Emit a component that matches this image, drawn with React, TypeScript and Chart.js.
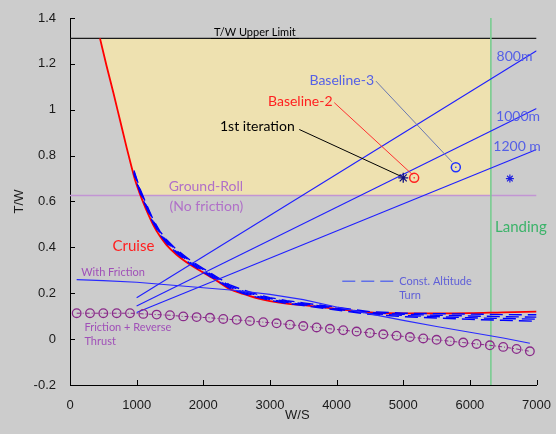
import React, { useEffect, useRef } from 'react';
import { Chart, registerables } from 'chart.js';

Chart.register(...registerables);

// ---- data ----
const cruiseWS = [450, 550, 650, 750, 850, 920, 980, 1040, 1100, 1150, 1250, 1350, 1450, 1600, 1800, 2000, 2200, 2400, 2600, 2800, 3000, 3250, 3500, 4000, 4500, 5000, 5500, 6000, 6500, 7000];
const cruiseTW = [1.311, 1.19, 1.075, 0.955, 0.835, 0.755, 0.69, 0.64, 0.595, 0.56, 0.497, 0.448, 0.41, 0.368, 0.325, 0.29, 0.255, 0.218, 0.197, 0.179, 0.166, 0.155, 0.148, 0.132, 0.116, 0.112, 0.112, 0.113, 0.117, 0.12];

const turnWS = [960, 1050, 1150, 1250, 1350, 1450, 1600, 1800, 2000, 2200, 2400, 2600, 2800, 3000, 3250, 3500, 4000, 4500, 5000, 5500, 6000, 6500, 7000];
const turn1TW = [0.735, 0.655, 0.585, 0.52, 0.47, 0.433, 0.39, 0.345, 0.308, 0.272, 0.236, 0.214, 0.196, 0.181, 0.168, 0.158, 0.139, 0.12, 0.113, 0.111, 0.109, 0.107, 0.106];
const turn2TW = [0.73, 0.65, 0.58, 0.515, 0.465, 0.428, 0.385, 0.34, 0.303, 0.267, 0.231, 0.209, 0.191, 0.177, 0.164, 0.154, 0.135, 0.116, 0.108, 0.104, 0.101, 0.098, 0.096];
const turn3TW = [0.725, 0.645, 0.575, 0.51, 0.46, 0.423, 0.38, 0.335, 0.298, 0.262, 0.226, 0.204, 0.187, 0.173, 0.16, 0.15, 0.131, 0.112, 0.103, 0.098, 0.093, 0.09, 0.087];
const turn4TW = [0.72, 0.64, 0.57, 0.505, 0.455, 0.418, 0.375, 0.33, 0.293, 0.257, 0.221, 0.199, 0.183, 0.169, 0.156, 0.146, 0.127, 0.108, 0.098, 0.092, 0.086, 0.082, 0.078];

const frictionWS = [100, 500, 1000, 1500, 2000, 2500, 3000, 3500, 4000, 4500, 5000, 5500, 6000, 6500, 6900];
const frictionTW = [0.259, 0.255, 0.248, 0.236, 0.224, 0.212, 0.195, 0.172, 0.14, 0.11, 0.082, 0.055, 0.03, 0.005, -0.018];

const reverseWS = [100, 300, 500, 700, 900, 1100, 1300, 1500, 1700, 1900, 2100, 2300, 2500, 2700, 2900, 3100, 3300, 3500, 3700, 3900, 4100, 4300, 4500, 4700, 4900, 5100, 5300, 5500, 5700, 5900, 6100, 6300, 6500, 6700, 6900];
const reverseTW = [0.113, 0.113, 0.113, 0.113, 0.113, 0.11, 0.107, 0.104, 0.099, 0.096, 0.093, 0.088, 0.084, 0.079, 0.074, 0.069, 0.063, 0.057, 0.051, 0.045, 0.039, 0.033, 0.027, 0.021, 0.015, 0.009, 0.003, -0.003, -0.009, -0.015, -0.021, -0.027, -0.034, -0.043, -0.053];

const altWS = [1000, 7000];
const alt800TW = [0.18, 1.257];
const alt1000TW = [0.144, 1.005];
const alt1200TW = [0.116, 0.827];

const fillWS = [450, 550, 650, 750, 850, 920, 980, 1040, 1044, 6315, 6315];
const fillTW = [1.311, 1.19, 1.075, 0.955, 0.835, 0.755, 0.69, 0.64, 0.626, 0.626, 1.311];

const upperLimitTW = 1.311;
const groundRollTW = 0.626;
const landingWS = 6315;

const iterWS = [5000, 6600];
const iterTW = [0.703, 0.70];
const baseline2WS = [5164];
const baseline2TW = [0.703];
const baseline3WS = [5789];
const baseline3TW = [0.749];

const leaderIterWS = [3440, 4965];
const leaderIterTW = [0.914, 0.71];
const leaderB2WS = [3965, 5139];
const leaderB2TW = [1.031, 0.717];
const leaderB3WS = [4590, 5734];
const leaderB3TW = [1.125, 0.772];

const legendDashWS = [4085, 4880];
const legendDashTW = [0.252, 0.252];

const xTicks = [0, 1000, 2000, 3000, 4000, 5000, 6000, 7000];
const yTicks = [-0.2, 0, 0.2, 0.4, 0.6, 0.8, 1, 1.2, 1.4];

const pts = (xs: number[], ys: number[]) => xs.map((x, i) => ({ x, y: ys[i] }));

const ANN = 'Lato, "Open Sans", sans-serif';
const AX = '"Liberation Sans", Arial, sans-serif';

type Lbl = { t: string; ws: number; tw: number; c: string; s: number; a: CanvasTextAlign; u?: boolean };
const labels: Lbl[] = [
  { t: 'T/W Upper Limit', ws: 2773, tw: 1.338, c: '#000000', s: 11, a: 'center', u: true },
  { t: 'Baseline-3', ws: 4077, tw: 1.128, c: '#5560e6', s: 14, a: 'center' },
  { t: 'Baseline-2', ws: 3455, tw: 1.034, c: '#ff2020', s: 14, a: 'center' },
  { t: '1st iteration', ws: 2811, tw: 0.925, c: '#000000', s: 14, a: 'center' },
  { t: '800m', ws: 6670, tw: 1.233, c: '#5560e6', s: 14, a: 'center' },
  { t: '1000m', ws: 6723, tw: 0.972, c: '#5560e6', s: 14, a: 'center' },
  { t: '1200 m', ws: 6708, tw: 0.841, c: '#5560e6', s: 14, a: 'center' },
  { t: 'Ground-Roll', ws: 2039, tw: 0.665, c: '#b070c8', s: 14, a: 'center' },
  { t: '(No friction)', ws: 2046, tw: 0.579, c: '#b070c8', s: 14, a: 'center' },
  { t: 'Cruise', ws: 952, tw: 0.404, c: '#ff2020', s: 15, a: 'center' },
  { t: 'With Friction', ws: 168, tw: 0.29, c: '#a050b8', s: 11, a: 'left' },
  { t: 'Friction + Reverse', ws: 217, tw: 0.051, c: '#a050b8', s: 11, a: 'left' },
  { t: 'Thrust', ws: 217, tw: -0.012, c: '#a050b8', s: 11, a: 'left' },
  { t: 'Const. Altitude', ws: 4939, tw: 0.252, c: '#6060d8', s: 11, a: 'left' },
  { t: 'Turn', ws: 4939, tw: 0.189, c: '#6060d8', s: 11, a: 'left' },
  { t: 'Landing', ws: 6378, tw: 0.487, c: '#3cb36a', s: 15, a: 'left' },
];

const annotPlugin = {
  id: 'annot',
  afterDraw(chart: any) {
    const { ctx, chartArea: ca } = chart;
    const x = chart.scales.x;
    const y = chart.scales.y;
    ctx.save();
    ctx.strokeStyle = '#000';
    ctx.lineWidth = 1;
    ctx.beginPath();
    for (const v of xTicks) {
      const px = Math.round(x.getPixelForValue(v)) + 0.5;
      ctx.moveTo(px, ca.bottom);
      ctx.lineTo(px, ca.bottom - 5);
    }
    for (const v of yTicks) {
      const py = Math.round(y.getPixelForValue(v)) + 0.5;
      ctx.moveTo(ca.left, py);
      ctx.lineTo(ca.left + 5, py);
    }
    ctx.stroke();

    ctx.textBaseline = 'middle';
    for (const l of labels) {
      ctx.font = `${l.s}px ${ANN}`;
      ctx.fillStyle = l.c;
      ctx.textAlign = l.a;
      const px = x.getPixelForValue(l.ws);
      const py = y.getPixelForValue(l.tw);
      ctx.fillText(l.t, px, py);
      if (l.u) {
        const w = ctx.measureText(l.t).width;
        ctx.strokeStyle = l.c;
        ctx.beginPath();
        const uy = Math.round(py + l.s * 0.5) + 0.5;
        ctx.moveTo(px - w / 2 - 3, uy);
        ctx.lineTo(px + w / 2 + 3, uy);
        ctx.stroke();
      }
    }

    ctx.fillStyle = '#1a1a1a';
    ctx.font = `13px ${AX}`;
    ctx.textAlign = 'center';
    ctx.fillText('W/S', (ca.left + ca.right) / 2 - 6, 415);
    ctx.save();
    ctx.translate(19, (ca.top + ca.bottom) / 2);
    ctx.rotate(-Math.PI / 2);
    ctx.fillText('T/W', 0, 0);
    ctx.restore();
    ctx.restore();
  },
};

export default function App() {
  const ref = useRef<HTMLCanvasElement | null>(null);
  useEffect(() => {
    document.body.style.margin = '0';
    document.body.style.background = '#cccccc';
    const canvas = ref.current!;
    const line = (data: any[], color: string, width: number, extra: any = {}) => ({
      data,
      showLine: true,
      borderColor: color,
      backgroundColor: color,
      borderWidth: width,
      pointRadius: 0,
      fill: false,
      tension: 0,
      ...extra,
    });
    const dash = [13, 6];
    const chart = new Chart(canvas, {
      type: 'scatter',
      data: {
        datasets: [
          // markers (top)
          { data: pts(iterWS.slice(0, 1), iterTW.slice(0, 1)), pointStyle: 'star', pointRadius: 5, borderColor: '#101080', borderWidth: 1.3, backgroundColor: '#101080', showLine: false },
          { data: pts(iterWS.slice(1), iterTW.slice(1)), pointStyle: 'star', pointRadius: 4, borderColor: '#2020e0', borderWidth: 1.2, backgroundColor: '#2020e0', showLine: false },
          { data: pts(baseline2WS, baseline2TW), pointStyle: 'circle', pointRadius: 4.5, borderColor: '#ff2020', borderWidth: 1.5, backgroundColor: 'rgba(0,0,0,0)', showLine: false },
          { data: pts(baseline2WS, baseline2TW), pointStyle: 'circle', pointRadius: 0.8, borderColor: '#ff2020', borderWidth: 0, backgroundColor: '#ff2020', showLine: false },
          { data: pts(baseline3WS, baseline3TW), pointStyle: 'circle', pointRadius: 4.5, borderColor: '#2030ff', borderWidth: 1.5, backgroundColor: 'rgba(0,0,0,0)', showLine: false },
          { data: pts(baseline3WS, baseline3TW), pointStyle: 'circle', pointRadius: 0.8, borderColor: '#2030ff', borderWidth: 0, backgroundColor: '#2030ff', showLine: false },
          // leaders
          line(pts(leaderIterWS, leaderIterTW), '#000000', 1),
          line(pts(leaderB2WS, leaderB2TW), '#ff3030', 1),
          line(pts(leaderB3WS, leaderB3TW), '#6a78b0', 1),
          // legend dash
          line(pts(legendDashWS, legendDashTW), '#6070e8', 1.5, { borderDash: dash }),
          // reverse thrust
          line(pts(reverseWS, reverseTW), '#8a2a8a', 1, {
            borderDash: [4, 2, 1, 2],
            pointRadius: 4.3,
            pointStyle: 'circle',
            pointBorderColor: '#8a2a8a',
            pointBackgroundColor: 'rgba(0,0,0,0)',
            pointBorderWidth: 1.3,
          }),
          // friction
          line(pts(frictionWS, frictionTW), '#2a2aff', 1.2),
          // altitude lines
          line(pts(altWS, alt800TW), '#1f1fff', 1.1),
          line(pts(altWS, alt1000TW), '#1f1fff', 1.1),
          line(pts(altWS, alt1200TW), '#1f1fff', 1.1),
          // turn dashed
          line(pts(turnWS, turn1TW), '#0000ff', 1.4, { borderDash: dash }),
          line(pts(turnWS, turn2TW), '#0000ff', 1.4, { borderDash: dash, borderDashOffset: 3 }),
          line(pts(turnWS, turn3TW), '#0000ff', 1.4, { borderDash: dash, borderDashOffset: 6 }),
          line(pts(turnWS, turn4TW), '#0000ff', 1.4, { borderDash: dash, borderDashOffset: 9 }),
          // cruise
          line(pts(cruiseWS, cruiseTW), '#ff0000', 1.8, { cubicInterpolationMode: 'monotone' }),
          // constraint lines
          line(pts([landingWS, landingWS], [-0.2, 1.4]), '#78cc90', 1.6),
          line(pts([0, 7000], [upperLimitTW, upperLimitTW]), '#1a1a1a', 1.2),
          line(pts([0, 7000], [groundRollTW, groundRollTW]), '#c295d4', 1.4),
          // feasible region fill (bottom)
          line(pts(fillWS, fillTW), 'rgba(0,0,0,0)', 0, { fill: { value: upperLimitTW }, backgroundColor: '#eee1b0' }),
        ],
      },
      options: {
        responsive: false,
        animation: false,
        devicePixelRatio: 1,
        layout: { padding: { top: 18, right: 18, left: 0, bottom: 0 } },
        plugins: { legend: { display: false }, tooltip: { enabled: false } },
        scales: {
          x: {
            type: 'linear',
            min: 0,
            max: 7000,
            grid: { display: false },
            border: { display: true, color: '#000', width: 1 },
            ticks: { stepSize: 1000, color: '#1a1a1a', font: { family: AX, size: 13 }, padding: 5, maxRotation: 0, callback: (v: any) => String(v) },
            afterFit: (s: any) => { s.height = 49; },
          },
          y: {
            type: 'linear',
            min: -0.2,
            max: 1.4,
            grid: { display: false },
            border: { display: true, color: '#000', width: 1 },
            ticks: { stepSize: 0.2, color: '#1a1a1a', font: { family: AX, size: 13 }, padding: 6, callback: (v: any) => String(Math.round(Number(v) * 10) / 10) },
            afterFit: (s: any) => { s.width = 70; },
          },
        },
      },
      plugins: [annotPlugin],
    });
    return () => chart.destroy();
  }, []);
  return (
    <div style={{ width: 556, height: 434, background: '#cccccc', position: 'relative' }}>
      <canvas ref={ref} width={556} height={434} style={{ display: 'block', position: 'absolute', left: 0, top: 0 }} />
    </div>
  );
}
